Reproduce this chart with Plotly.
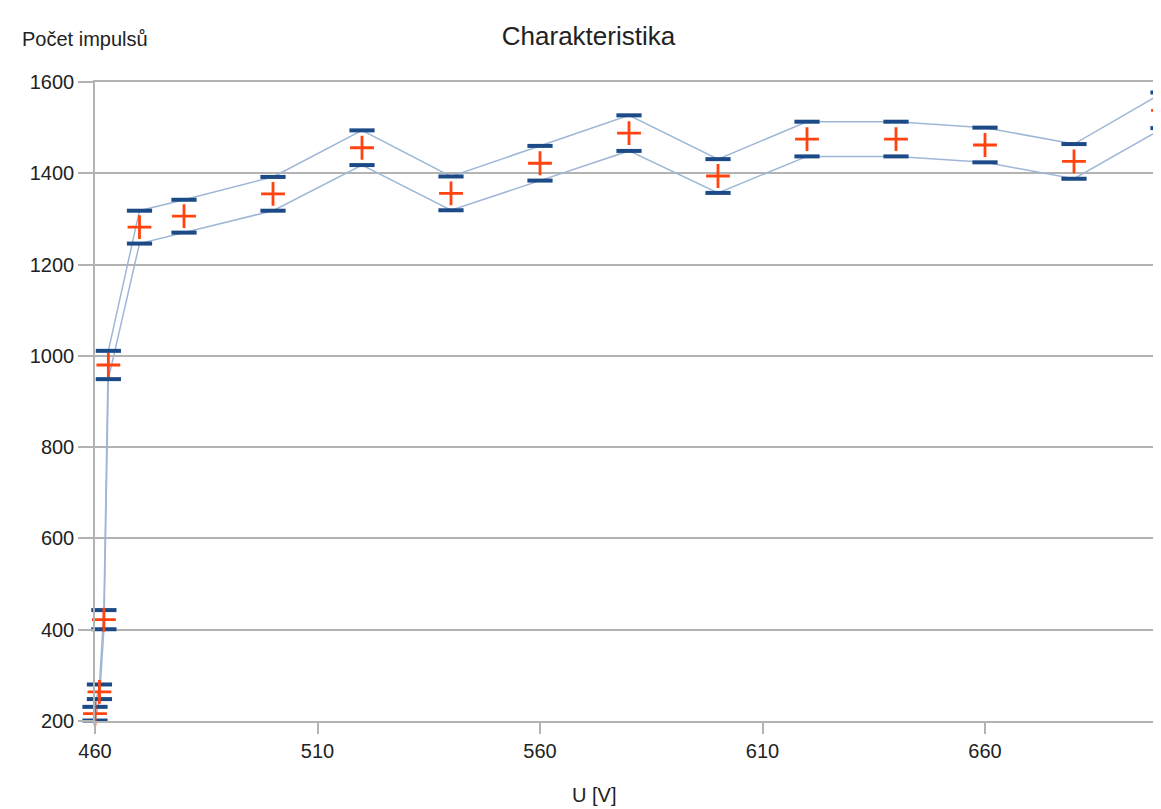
import plotly.graph_objects as go

# Data
voltage = [460, 461, 462, 463, 470, 480, 500, 520, 540, 560, 580, 600, 620, 640, 660, 680, 700]
counts = [216, 264, 422, 980, 1282, 1306, 1355, 1456, 1356, 1422, 1488, 1394, 1475, 1475, 1462, 1426, 1538]
errors = [15, 16, 21, 31, 36, 36, 37, 38, 37, 38, 39, 37, 38, 38, 38, 38, 39]

x_ticks = [460, 510, 560, 610, 660]
y_ticks = [200, 400, 600, 800, 1000, 1200, 1400, 1600]

upper = [c + e for c, e in zip(counts, errors)]
lower = [c - e for c, e in zip(counts, errors)]

FONT = "Liberation Sans, Arial, sans-serif"
LINE_C = "#9fb7d6"
CAP_C = "#1b4a86"
PLUS_C = "#ff420e"
TXT_C = "#222222"

fig = go.Figure()
for ys in (upper, lower):
    fig.add_trace(go.Scatter(
        x=voltage, y=ys, mode="lines",
        line=dict(color=LINE_C, width=1.5),
        hoverinfo="skip", cliponaxis=False, showlegend=False))
for ys in (upper, lower):
    fig.add_trace(go.Scatter(
        x=voltage, y=ys, mode="markers",
        marker=dict(symbol="line-ew", size=18, line=dict(color=CAP_C, width=4)),
        cliponaxis=False, showlegend=False))
fig.add_trace(go.Scatter(
    x=voltage, y=counts, mode="markers",
    marker=dict(symbol="cross-thin", size=17, line=dict(color=PLUS_C, width=2.8)),
    cliponaxis=False, showlegend=False))

fig.update_layout(
    width=1161, height=809,
    margin=dict(l=87, r=4, t=74, b=96),
    paper_bgcolor="white", plot_bgcolor="white",
    font=dict(family=FONT, color=TXT_C, size=20),
    title=dict(text="Charakteristika", x=0.5, xanchor="center", y=0.966, yanchor="middle",
               font=dict(family=FONT, size=26, color=TXT_C)),
    xaxis=dict(range=[460, 700], tickvals=x_ticks, showgrid=False,
               showline=True, linecolor="#b3b3b3", linewidth=1.5, mirror=True,
               ticks="outside", ticklen=11, tickcolor="#b3b3b3", tickwidth=1.5,
               tickfont=dict(size=20), zeroline=False),
    yaxis=dict(range=[200, 1600], tickvals=y_ticks, showgrid=True,
               gridcolor="#b3b3b3", gridwidth=1.5,
               showline=True, linecolor="#b3b3b3", linewidth=1.5, mirror=True,
               ticks="outside", ticklen=15, tickcolor="#b3b3b3", tickwidth=1.5,
               tickfont=dict(size=20), zeroline=False),
    annotations=[
        dict(text="Počet impulsů", xref="paper", yref="paper",
             x=-87/1070, y=(639 + 43) / 639, xanchor="left", yanchor="middle",
             xshift=12, showarrow=False, font=dict(size=20, color=TXT_C)),
        dict(text="U [V]", xref="paper", yref="paper",
             x=(587 - 87) / 1070, y=-74 / 639, xanchor="center", yanchor="middle",
             showarrow=False, font=dict(size=20, color=TXT_C)),
    ],
)

fig.write_html("out.html")
